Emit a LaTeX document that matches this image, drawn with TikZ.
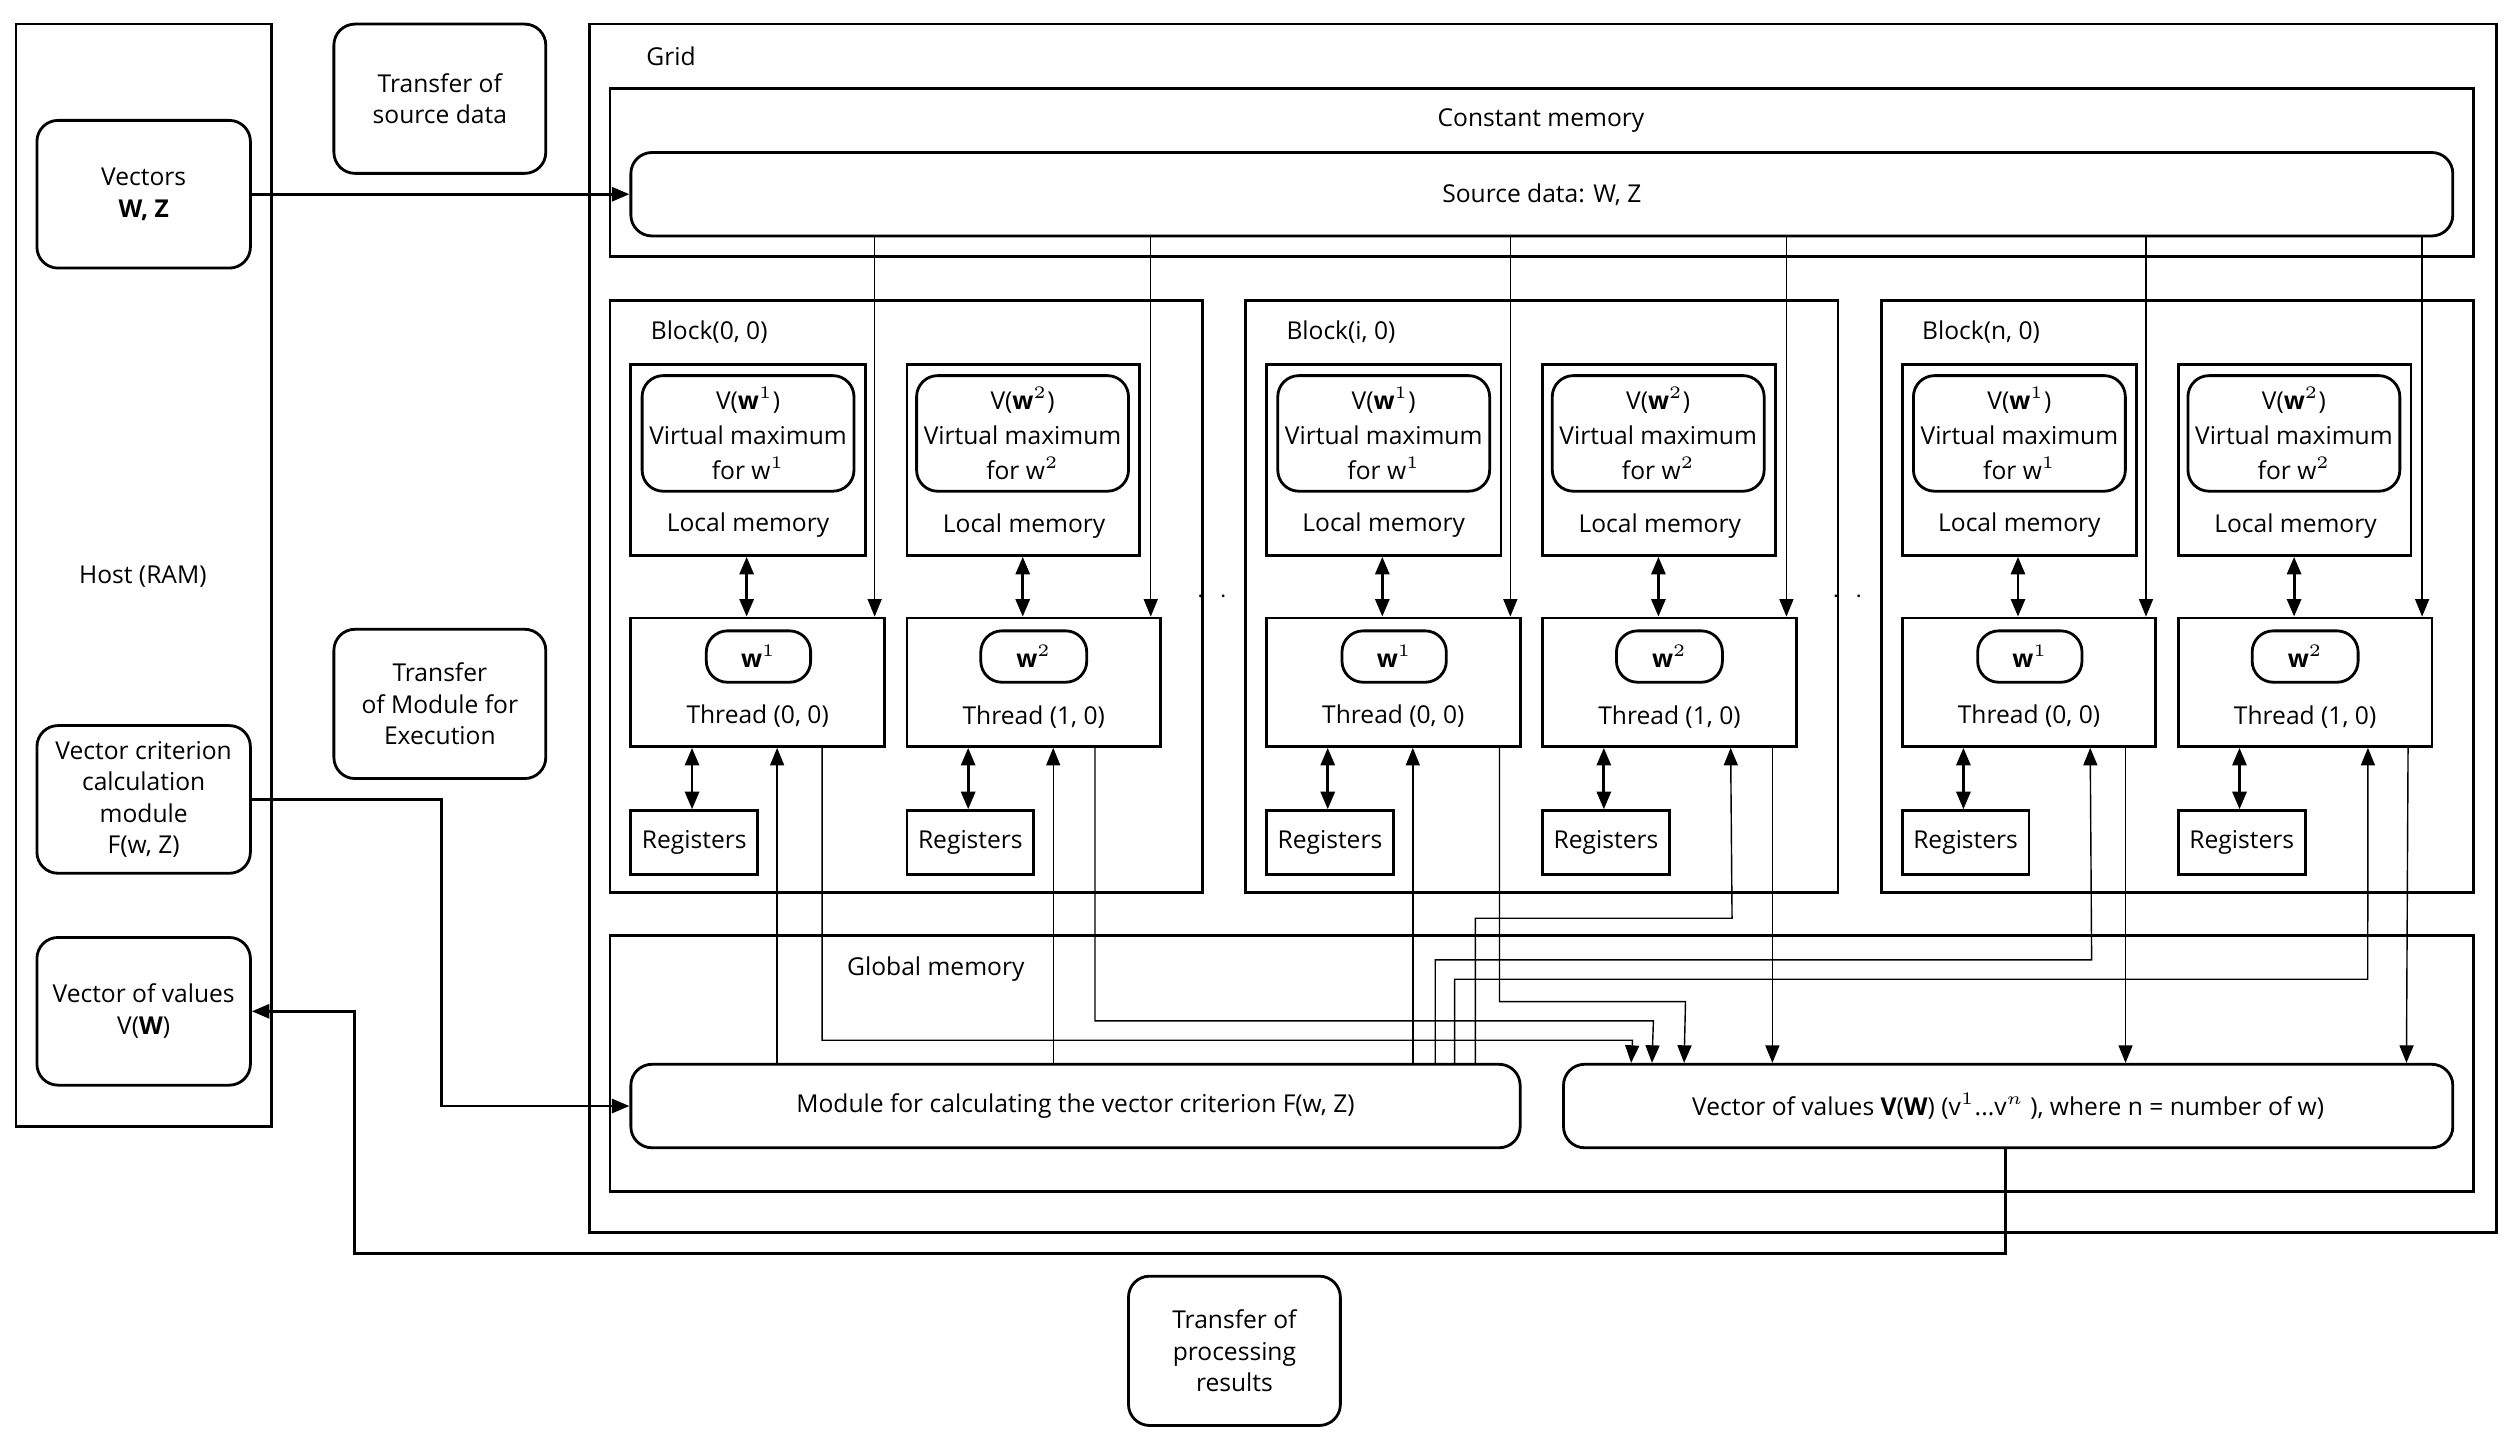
\documentclass[tikz,border=0pt]{standalone}
\usepackage{fontspec}
\setmainfont{Open Sans}
\usetikzlibrary{arrows.meta,positioning,fit,calc}

\begin{document}
\begin{tikzpicture}[
    x=0.01605cm, y=-0.01605cm,
    >={Triangle[length=5pt,width=4pt]},
    txt/.style={font=\fontsize{7}{9}\selectfont, align=center, inner sep=0pt},
    box/.style={draw, thick, inner sep=0pt},
    rbox/.style={box, rounded corners=6pt},
    link/.style={->, thin},
    both/.style={<->, thick}
  ]
  \useasboundingbox (0,0) rectangle (1568,900);

  % Host side
  \node[box, fit={(10,15) (169,702)}] (host) {};
  \node[txt] at (89,359) {Host (RAM)};
  \node[rbox, fit={(23,75) (156,167)}, label={[txt]center:Vectors\\\textbf{W, Z}}] (vec) {};
  \node[rbox, fit={(23,452) (156,544)}, label={[txt]center:Vector criterion\\calculation\\module\\F(w, Z)}] (crit) {};
  \node[rbox, fit={(23,584) (156,676)}, label={[txt]center:Vector of values\\V(\textbf{W})}] (vals) {};

  % Transfer labels
  \node[rbox, fit={(208,15) (340,108)}, label={[txt]center:Transfer of\\source data}] (trsrc) {};
  \node[rbox, fit={(208,392) (340,485)}, label={[txt]center:Transfer\\of Module for\\Execution}] (trmod) {};
  \node[rbox, fit={(703,795) (835,888)}, label={[txt]center:Transfer of\\processing\\results}] (trres) {};

  % Grid
  \node[box, fit={(367,15) (1555,768)}] (grid) {};
  \node[txt] at (418,35) {Grid};
  \node[box, fit={(380,55) (1541,160)}] (const) {};
  \node[txt] at (960,75) {Constant memory};
  \node[rbox, fit={(393,95) (1528,147)}, label={[txt]center:Source data: W, Z}] (src) {};

  % Blocks
  \foreach \b/\L/\lab in {0/380/{0, 0}, 1/776/{i, 0}, 2/1172/{n, 0}} {
    \node[box, fit={(\L,187) (\L+369,556)}] (blk\b) {};
    \node[txt, anchor=west] at (\L+25,207) {Block(\lab)};
    % local memories
    \node[box, fit={(\L+13,227) (\L+159,346)}] (lmA\b) {};
    \node[box, fit={(\L+185,227) (\L+330,346)}] (lmB\b) {};
    \node[rbox, fit={(\L+20,234) (\L+152,306)}, label={[txt]center:V(\textbf{w}$^1$)\\[1pt]Virtual maximum\\[1pt]for w$^1$}] (vmA\b) {};
    \node[rbox, fit={(\L+191,234) (\L+323,306)}, label={[txt]center:V(\textbf{w}$^2$)\\[1pt]Virtual maximum\\[1pt]for w$^2$}] (vmB\b) {};
    \node[txt] at (\L+86,327) {Local memory};
    \node[txt] at (\L+258,328) {Local memory};
    % threads
    \node[box, fit={(\L+13,385) (\L+171,465)}] (thA\b) {};
    \node[box, fit={(\L+185,385) (\L+343,465)}] (thB\b) {};
    \node[rbox, fit={(\L+60,393) (\L+125,425)}, label={[txt]center:\textbf{w}$^1$}] (wA\b) {};
    \node[rbox, fit={(\L+231,393) (\L+297,425)}, label={[txt]center:\textbf{w}$^2$}] (wB\b) {};
    \node[txt] at (\L+92,446) {Thread (0, 0)};
    \node[txt] at (\L+264,447) {Thread (1, 0)};
    % registers
    \node[box, fit={(\L+13,505) (\L+92,545)}, label={[txt]center:Registers}] (rgA\b) {};
    \node[box, fit={(\L+185,505) (\L+264,545)}, label={[txt]center:Registers}] (rgB\b) {};
    \draw[both] ($(lmA\b.south west)+(73,0)$) -- ($(thA\b.north west)+(73,0)$);
    \draw[both] ($(lmB\b.south west)+(73,0)$) -- ($(thB\b.north west)+(73,0)$);
    \draw[both] ($(thA\b.south west)+(39,0)$) -- ($(rgA\b.north west)+(39,0)$);
    \draw[both] ($(thB\b.south west)+(39,0)$) -- ($(rgB\b.north west)+(39,0)$);
    \coordinate (sA\b) at ($(thA\b.north east)+(-7,0)$);
    \coordinate (sB\b) at ($(thB\b.north east)+(-7,0)$);
    \draw[link] (src.south -| sA\b) -- (sA\b);
    \draw[link] (src.south -| sB\b) -- (sB\b);
  }
  \node[txt] at (762,372) {$\cdot\;\cdot\;\cdot$};
  \node[txt] at (1158,372) {$\cdot\;\cdot\;\cdot$};

  % Global memory
  \node[box, fit={(380,583) (1541,742)}] (glob) {};
  \node[txt] at (583,604) {Global memory};
  \node[rbox, fit={(393,663) (947,715)}, label={[txt]center:Module for calculating the vector criterion F(w, Z)}] (mod) {};
  \node[rbox, fit={(974,663) (1528,715)}, label={[txt]center:Vector of values \textbf{V}(\textbf{W}) (v$^1$...v$^n$ ), where n = number of w)}] (res) {};

  % Host <-> grid
  \draw[link, thick] (vec) -- (src);
  \draw[link, thick] (crit.east) -| (275,600) |- (mod.west);
  \draw[link, thick] ($(res.south west)+(276,0)$) |- (221,781) |- (vals.east);

  % Module -> threads
  \draw[link] ($(mod.north west)+(92,0)$) -- ($(thA0.south west)+(92,0)$);
  \draw[link] ($(mod.north west)+(264,0)$) -- ($(thB0.south west)+(92,0)$);
  \draw[link] ($(mod.north west)+(488,0)$) -- ($(thA1.south west)+(92,0)$);
  \draw[link] ($(mod.north west)+(527,0)$) |- (1079,572) -- ($(thB1.south west)+(118,0)$);
  \draw[link] ($(mod.north west)+(502,0)$) |- (1303,598) -- ($(thA2.south west)+(118,0)$);
  \draw[link] ($(mod.north west)+(514,0)$) |- (1475,610) -- ($(thB2.south west)+(119,0)$);

  % Threads -> result vector
  \draw[link] ($(thA0.south west)+(120,0)$) |- (1017,648) -- ($(res.north west)+(43,0)$);
  \draw[link] ($(thB0.south west)+(118,0)$) |- (1030,636) -- ($(res.north west)+(56,0)$);
  \draw[link] ($(thA1.south west)+(146,0)$) |- (1050,624) -- ($(res.north west)+(76,0)$);
  \draw[link] ($(thB1.south west)+(144,0)$) -- ($(res.north west)+(131,0)$);
  \draw[link] ($(thA2.south west)+(140,0)$) -- ($(res.north west)+(351,0)$);
  \draw[link] ($(thB2.south west)+(144,0)$) -- ($(res.north west)+(526,0)$);
\end{tikzpicture}
\end{document}
